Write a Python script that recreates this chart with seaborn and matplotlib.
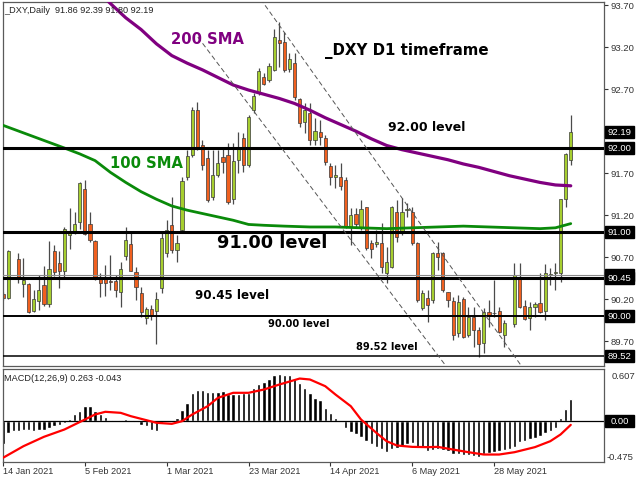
import numpy as np
import matplotlib
matplotlib.use("Agg")
import matplotlib.pyplot as plt
import matplotlib.transforms as mtransforms
from matplotlib.patches import Rectangle
import seaborn as sns

sns.set_theme(style="white")
plt.rcParams["font.family"] = ["DejaVu Sans"]

# ---------------- data ----------------
header_text = "_DXY,Daily  91.86 92.39 91.80 92.19"
macd_text = "MACD(12,26,9) 0.263 -0.043"

nan = np.nan
opens = [90.26, 90.21, nan, 90.68, 90.38, 90.38, 90.06, 90.18, 90.37, 90.14,
         90.77, 90.63, 90.54, 90.96, 91.01, 91.12, 91.51, 91.10, 90.89, 90.44,
         90.44, 90.42, 90.42, 90.28, 90.71, 90.86, 90.52, 90.27, 89.98, 90.08,
         90.06, 90.33, 90.75, 91.08, 90.79, 91.02, 91.66, 91.92, 92.45, 92.04,
         91.88, 91.42, 91.68, 91.89, 91.92, 91.39, 91.86, 92.12, 91.80, 92.45,
         92.67, 92.85, 92.81, 92.93, 93.29, 93.26, 92.94, 93.01, 92.58, 92.31,
         92.42, 92.10, 92.19, 92.12, 91.79, 91.65, 91.65, 91.62, 91.06, 91.21,
         91.06, 91.30, 90.87, 90.86, 90.87, 90.51, 90.58, 91.24, 90.99, 91.26,
         91.24, 90.87, 90.10, 90.21, 90.19, 90.75, 90.75, 90.29, 90.18, 89.80,
         90.20, 89.77, 89.99, 89.83, 89.68, 90.05, 90.04, 90.06, 89.77, nan,
         89.90, 90.44, 90.12, 89.98, 90.11, 90.15, 90.06, 90.49, 90.51, 90.51,
         91.39, 91.86]
highs = [90.29, 90.79, nan, 90.75, 90.69, 90.39, 90.31, 90.49, 90.59, 90.89,
         90.85, 90.77, 91.06, 91.29, 91.24, 91.59, 91.62, 91.24, 90.91, 90.51,
         90.61, 90.73, 90.49, 90.64, 91.06, 91.00, 90.58, 90.35, 90.11, 90.13,
         90.29, 90.99, 91.14, 91.42, 90.96, 91.66, 91.98, 92.49, 92.55, 92.10,
         91.98, 91.98, 91.98, 92.01, 92.06, 92.06, 92.19, 92.18, 92.39, 92.65,
         92.95, 92.89, 93.01, 93.42, 93.50, 93.38, 93.13, 93.13, 92.59, 92.54,
         92.54, 92.36, 92.33, 92.15, 91.82, 91.80, 91.82, 91.65, 91.29, 91.29,
         91.38, 91.30, 90.91, 91.02, 91.11, 90.82, 91.31, 91.38, 91.40, 91.35,
         91.30, 90.88, 90.31, 90.31, 90.76, 90.88, 90.76, 90.29, 90.23, 90.25,
         90.23, 90.11, 90.11, 89.87, 90.10, 90.19, 90.43, 90.11, 89.95, nan,
         90.63, 90.63, 90.19, 90.17, 90.17, 90.51, 90.62, 90.57, 90.63, 91.39,
         91.94, 92.39]
lows = [90.19, 90.20, nan, 90.39, 90.23, 90.03, 90.05, 90.07, 90.12, 90.11,
        90.48, 90.33, 90.47, 90.80, 90.98, 91.04, 90.96, 90.88, 90.43, 90.23,
        90.24, 90.31, 90.23, 90.11, 90.67, 90.53, 90.19, 89.99, 89.91, 89.95,
        89.67, 90.27, 90.70, 90.75, 90.64, 91.00, 91.62, 91.89, 91.98, 91.74,
        91.36, 91.38, 91.65, 91.70, 91.33, 91.33, 91.70, 91.71, 91.77, 92.42,
        92.63, 92.75, 92.79, 92.92, 92.96, 92.90, 92.90, 92.57, 92.25, 92.18,
        92.04, 92.04, 92.04, 91.80, 91.56, 91.52, 91.50, 91.05, 90.85, 91.06,
        91.02, 90.79, 90.69, 90.82, 90.51, 90.39, 90.57, 90.88, 90.96, 91.18,
        90.85, 90.17, 90.07, 89.93, 90.15, 90.55, 90.29, 90.11, 89.71, 89.75,
        89.74, 89.75, 89.63, 89.51, 89.56, 89.87, 89.99, 89.80, 89.63, nan,
        89.87, 90.10, 89.95, 89.83, 89.99, 90.04, 89.95, 90.37, 90.31, 90.41,
        91.30, 91.80]
closes = [90.22, 90.77, nan, 90.47, 90.43, 90.05, 90.20, 90.31, 90.14, 90.56,
          90.52, 90.54, 91.04, 91.01, 91.09, 91.58, 90.98, 90.90, 90.44, 90.39,
          90.39, 90.40, 90.31, 90.56, 90.91, 90.54, 90.34, 90.05, 90.08, 90.01,
          90.20, 90.93, 91.02, 90.79, 90.87, 91.61, 91.90, 92.45, 92.01, 91.80,
          91.38, 91.68, 91.82, 91.83, 91.36, 91.85, 91.99, 91.80, 92.37, 92.62,
          92.92, 92.76, 92.98, 93.32, 93.25, 92.93, 93.06, 92.61, 92.30, 92.45,
          92.10, 92.20, 92.13, 91.83, 91.65, 91.68, 91.55, 91.06, 91.20, 91.10,
          91.27, 90.81, 90.80, 90.88, 90.58, 90.64, 91.30, 90.94, 91.24, 91.27,
          90.87, 90.19, 90.27, 90.13, 90.75, 90.70, 90.31, 90.19, 89.77, 90.17,
          89.75, 89.99, 89.83, 89.67, 90.05, 90.01, 90.03, 89.81, 89.92, nan,
          90.49, 90.11, 89.96, 90.11, 90.14, 90.05, 90.51, 90.50, 90.52, 91.39,
          91.93, 92.19]

date_ticks = [0, 16, 32, 48, 64, 80, 96]
date_labels = ["14 Jan 2021", "5 Feb 2021", "1 Mar 2021", "23 Mar 2021",
               "14 Apr 2021", "6 May 2021", "28 May 2021"]

sma200_idx = [18, 21, 24, 27, 30, 33, 36, 39, 42, 45, 48, 51, 54, 57, 60, 63,
              66, 69, 72, 75, 78, 81, 84, 87, 90, 93, 96, 99, 102, 105, 108, 111]
sma200_val = [93.90, 93.72, 93.55, 93.41, 93.24, 93.10, 93.01, 92.93, 92.84,
              92.75, 92.69, 92.64, 92.59, 92.53, 92.45, 92.36, 92.28, 92.20,
              92.11, 92.03, 91.98, 91.94, 91.90, 91.86, 91.81, 91.77, 91.72,
              91.67, 91.63, 91.59, 91.56, 91.55]

sma100_idx = [0, 4, 8, 12, 15, 18, 21, 24, 27, 30, 33, 36, 39, 42, 45, 48, 51,
              55, 60, 65, 70, 75, 80, 85, 90, 95, 100, 105, 108, 111]
sma100_val = [92.27, 92.18, 92.09, 92.00, 91.93, 91.85, 91.71, 91.59, 91.48,
              91.39, 91.31, 91.26, 91.22, 91.18, 91.14, 91.09, 91.08, 91.07,
              91.06, 91.06, 91.05, 91.04, 91.05, 91.06, 91.07, 91.06, 91.05,
              91.04, 91.05, 91.10]

macd_hist = [-0.271, -0.136, -0.116, -0.116, -0.105, -0.105, -0.109, -0.105,
             -0.097, -0.078, -0.058, -0.039, -0.019, 0.027, 0.078, 0.116,
             0.174, 0.174, 0.116, 0.078, 0.047, 0.019, 0.003, 0.008, 0.027,
             0.019, -0.004, -0.039, -0.058, -0.097, -0.109, -0.019, -0.004,
             0.012, 0.039, 0.128, 0.213, 0.330, 0.357, 0.361, 0.341, 0.341,
             0.341, 0.349, 0.318, 0.318, 0.318, 0.330, 0.330, 0.388, 0.438,
             0.454, 0.485, 0.535, 0.554, 0.543, 0.543, 0.492, 0.446, 0.388,
             0.330, 0.271, 0.244, 0.155, 0.097, 0.039, -0.012, -0.078, -0.128,
             -0.155, -0.182, -0.233, -0.271, -0.299, -0.322, -0.361, -0.322,
             -0.310, -0.299, -0.271, -0.252, -0.299, -0.310, -0.349, -0.330,
             -0.322, -0.341, -0.349, -0.380, -0.380, -0.399, -0.399, -0.407,
             -0.419, -0.380, -0.368, -0.361, -0.349, -0.330, -0.322, -0.299,
             -0.244, -0.233, -0.213, -0.194, -0.167, -0.143, -0.116, -0.078,
             0.039, 0.143, 0.263]

signal_idx = [0, 4, 8, 12, 14, 16, 18, 20, 23, 25, 28, 30, 33, 35, 37, 40, 42,
              45, 48, 51, 54, 58, 60, 63, 65, 68, 70, 73, 75, 77, 80, 83, 85,
              88, 91, 94, 97, 100, 104, 107, 109, 111]
signal_val = [-0.426, -0.291, -0.182, -0.097, -0.039, 0.019, 0.078, 0.109,
              0.097, 0.058, 0.012, -0.019, -0.031, 0.000, 0.078, 0.174, 0.271,
              0.330, 0.330, 0.368, 0.426, 0.496, 0.485, 0.407, 0.310, 0.174,
              0.019, -0.136, -0.233, -0.283, -0.299, -0.302, -0.299, -0.330,
              -0.361, -0.388, -0.388, -0.361, -0.302, -0.233, -0.155, -0.043]

# horizontal support/resistance levels
levels = [92.00, 91.00, 90.45, 90.00, 89.52]
level_labels = ["92.00 level", "91.00 level", "90.45 level", "90.00 level",
                "89.52 level"]
extra_level = 90.49
last_price = 92.19

# descending channel (bar index, price)
channel_lower_x = [38.1, 88.4]
channel_lower_y = [93.32, 89.26]
channel_upper_x = [49.0, 102.0]
channel_upper_y = [93.89, 89.35]

price_ticks = [93.70, 93.20, 92.70, 91.70, 91.20, 90.70, 90.20, 89.70]
macd_top, macd_bottom = 0.607, -0.475

# ---------------- styling ----------------
bull_color = "#A6CE2F"
bear_color = "#F0601F"
wick_color = "#4a4a4a"
frame_color = "#5a5a5a"
small_font = "Liberation Sans"

level_style = {92.00: 2.2, 91.00: 2.2, 90.45: 2.2, 90.00: 1.4, 89.52: 1.1}

W, H = 640, 480
fig = plt.figure(figsize=(6.4, 4.8), dpi=100)
fig.patch.set_facecolor("white")
left_px, right_px = 2.5, 604
ax = fig.add_axes([left_px / W, 1 - 366 / H, (right_px - left_px) / W, 364 / H])
axm = fig.add_axes([left_px / W, 1 - 462 / H, (right_px - left_px) / W, 93 / H],
                   sharex=ax)

x = np.arange(len(opens))
o = np.array(opens, float)
h = np.array(highs, float)
l = np.array(lows, float)
c = np.array(closes, float)
valid = ~np.isnan(o)

# ---- candles ----
ax.vlines(x[valid], l[valid], h[valid], color=wick_color, lw=0.9, zorder=2)
bottoms = np.minimum(o, c)
heights = np.maximum(np.abs(c - o), 0.008)
colors = np.where(c >= o, bull_color, bear_color)
ax.bar(x[valid], heights[valid], bottom=bottoms[valid], width=0.62,
       color=colors[valid], edgecolor="#3a3a3a", linewidth=0.5, zorder=2.2)

# ---- moving averages ----
sns.lineplot(x=sma200_idx, y=sma200_val, ax=ax, color="#800080", linewidth=2.3,
             estimator=None, sort=False, zorder=3)
sns.lineplot(x=sma100_idx, y=sma100_val, ax=ax, color="#0A8A0A", linewidth=2.0,
             estimator=None, sort=False, zorder=3)

# ---- levels ----
ax.axhline(extra_level, color="#8a8a8a", lw=0.8, zorder=3.5)
for lv in levels:
    ax.axhline(lv, color="black", lw=level_style[lv], zorder=4)

# ---- channel ----
for xs, ys in [(channel_lower_x, channel_lower_y), (channel_upper_x, channel_upper_y)]:
    ax.plot(xs, ys, color="#555555", lw=0.7, dashes=(5, 3), zorder=4)

ax.set_xlim(-0.1, 117.5)
ax.set_ylim(89.405, 93.738)

# ---- axis cosmetics ----
for a in (ax, axm):
    for s in a.spines.values():
        s.set_color(frame_color)
        s.set_linewidth(0.9)
    a.set_facecolor("white")
    a.grid(False)

ax.yaxis.tick_right()
ax.set_yticks(price_ticks)
ax.set_yticklabels([f"{t:.2f}" for t in price_ticks])
ax.tick_params(axis="y", direction="out", length=3, width=0.8, colors="#333333",
               labelsize=6.8, pad=2)
for lab in ax.get_yticklabels():
    lab.set_fontfamily(small_font)
ax.tick_params(axis="x", bottom=False, labelbottom=False)
ax.set_xlabel("")
ax.set_ylabel("")

trans = mtransforms.blended_transform_factory(ax.transAxes, ax.transData)
box_x0 = (605 - left_px) / (right_px - left_px)
box_x1 = (634 - left_px) / (right_px - left_px)
box_h = 12 / 84.0


def price_box(axis, tr, value, text, height, z):
    axis.add_patch(Rectangle((box_x0, value - height / 2), box_x1 - box_x0, height,
                             transform=tr, facecolor="black", edgecolor="black",
                             clip_on=False, zorder=z))
    if text:
        axis.text((box_x0 + box_x1) / 2, value, text, transform=tr, ha="center",
                  va="center", color="white", fontsize=6.8, family=small_font,
                  clip_on=False, zorder=z + 0.1)


# the thin line's marker sits just behind the 90.45 box
price_box(ax, trans, 90.45 + 3 / 84.0, "", box_h, 6)
for lv in levels:
    price_box(ax, trans, lv, f"{lv:.2f}", box_h, 7)
price_box(ax, trans, last_price, f"{last_price:.2f}", box_h, 7)

# ---- annotations ----
ax.text(0.0025, 0.978, header_text, transform=ax.transAxes, ha="left", va="center",
        fontsize=6.6, family=small_font, color="#222222", zorder=6)

bold = dict(fontweight="bold", ha="left", va="center", zorder=6)
ax.text(32.9, 93.29, "200 SMA", color="#800080", fontsize=10.6, **bold)
ax.text(21.0, 91.81, "100 SMA", color="#0A8A0A", fontsize=10.6, **bold)
ax.text(63.0, 93.16, "_DXY D1 timeframe", color="black", fontsize=10.8, **bold)
ax.text(75.3, 92.24, level_labels[0], color="black", fontsize=9.0, **bold)
ax.text(41.9, 90.87, level_labels[1], color="black", fontsize=12.8, **bold)
ax.text(37.6, 90.25, level_labels[2], color="black", fontsize=8.6, **bold)
ax.text(51.9, 89.905, level_labels[3], color="black", fontsize=7.1, **bold)
ax.text(69.1, 89.63, level_labels[4], color="black", fontsize=7.1, **bold)

# ---- MACD panel ----
hist = np.array(macd_hist, float)
axm.bar(np.arange(len(hist)), hist, width=0.66, color="black", zorder=2)
axm.axhline(0, color="black", lw=0.9, zorder=2.5)
sns.lineplot(x=signal_idx, y=signal_val, ax=axm, color="#FF0000", linewidth=1.6,
             estimator=None, sort=False, zorder=3)
axm.set_ylim(macd_bottom, macd_top)
axm.set_yticks([])
axm.set_ylabel("")
axm.set_xticks(date_ticks)
axm.set_xticklabels(date_labels)
axm.tick_params(axis="x", direction="out", length=3, width=0.8, colors="#333333",
                labelsize=6.6, pad=0.8, bottom=True)
for lab in axm.get_xticklabels():
    lab.set_horizontalalignment("left")
    lab.set_fontfamily(small_font)

mtrans = mtransforms.blended_transform_factory(axm.transAxes, axm.transData)
axm.text(1.012, macd_top - 0.03, f"{macd_top:.3f}", transform=mtrans, ha="left",
         va="top", fontsize=6.8, family=small_font, color="#333333", clip_on=False)
axm.text(1.004, macd_bottom, f"{macd_bottom:.3f}", transform=mtrans, ha="left",
         va="bottom", fontsize=6.8, family=small_font, color="#333333", clip_on=False)
price_box(axm, mtrans, 0.0, "0.00", 12 * (macd_top - macd_bottom) / 93, 7)
axm.text(0.0025, 0.90, macd_text, transform=axm.transAxes, ha="left", va="center",
         fontsize=6.6, family=small_font, color="#222222")

fig.savefig("out.png", dpi=100, facecolor="white")
